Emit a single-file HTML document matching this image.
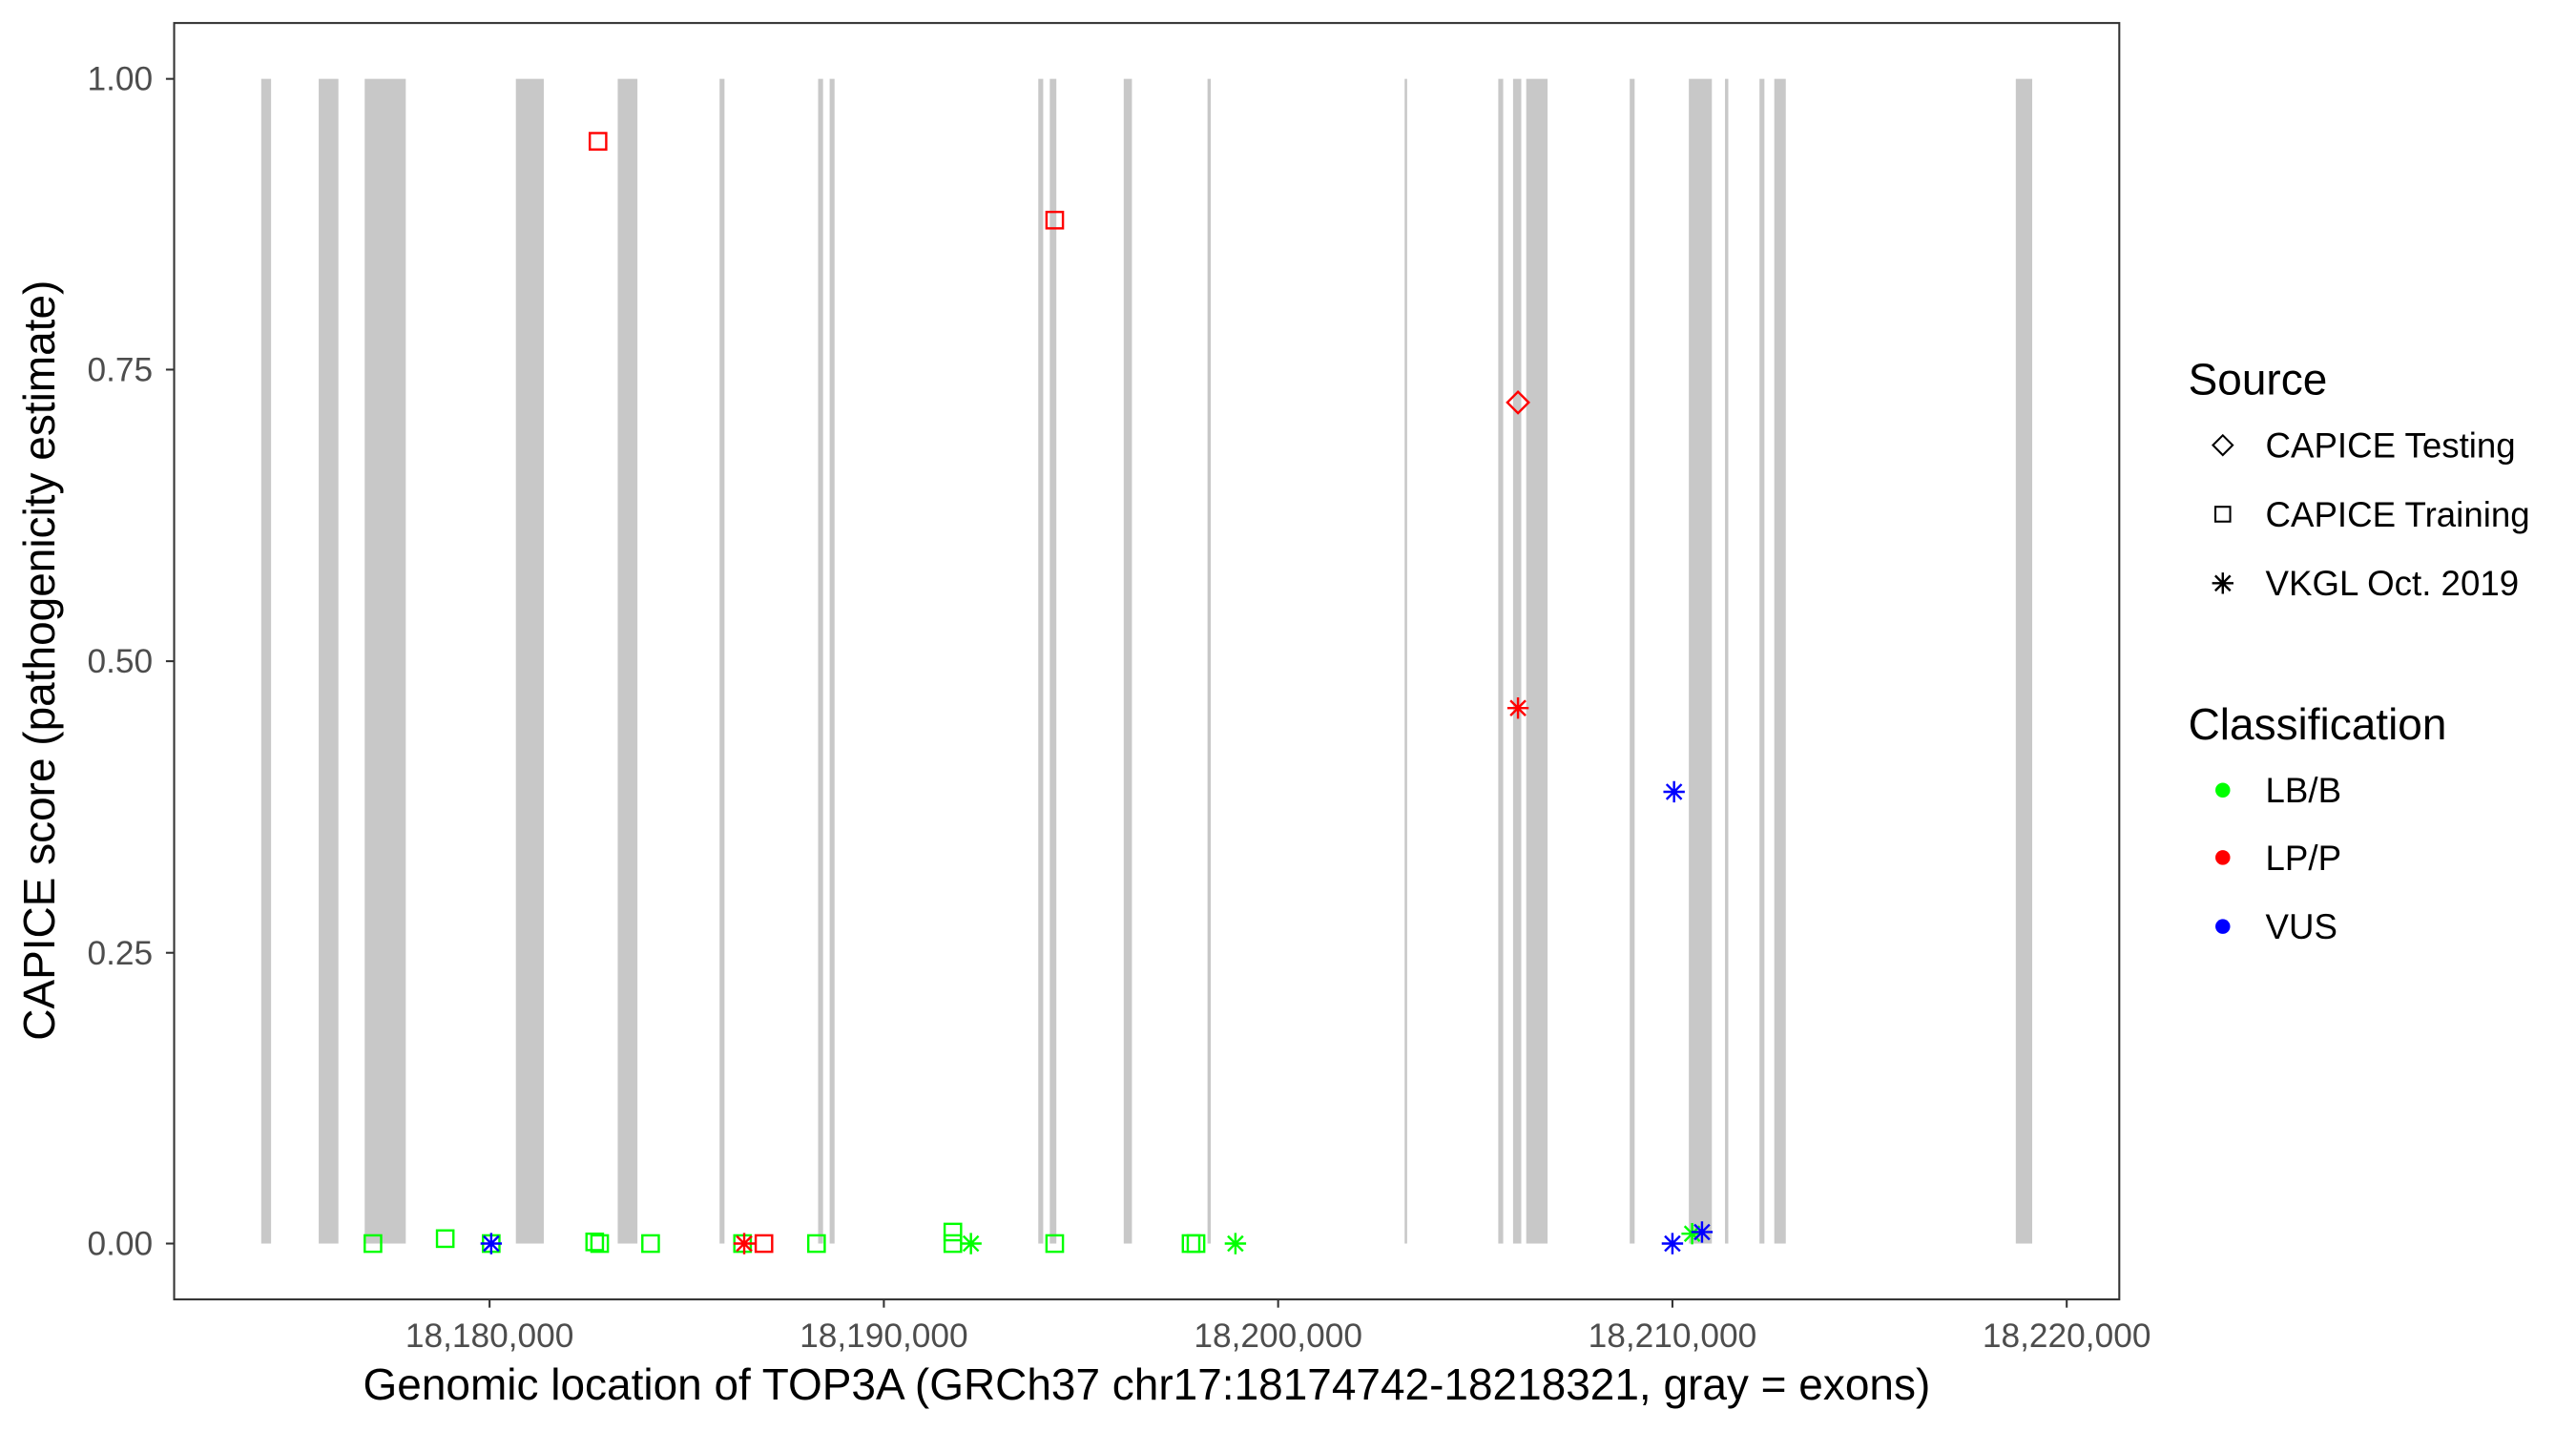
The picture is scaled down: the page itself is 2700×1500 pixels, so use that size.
<!DOCTYPE html>
<html><head><meta charset="utf-8"><style>html,body{margin:0;padding:0;background:#fff}svg{display:block}</style></head>
<body>
<svg width="2700" height="1500" viewBox="0 0 1568 871.1" xmlns="http://www.w3.org/2000/svg" font-family="Liberation Sans, Arial, sans-serif">
<defs>
<g id="st"><path d="M-6.5,0H6.5M0,-6.5V6.5M-4.6,-4.6L4.6,4.6M-4.6,4.6L4.6,-4.6" stroke-width="1.4" fill="none"/></g>
</defs>
<rect width="1568" height="871.1" fill="#fff"/>
<g fill="#c8c8c8">
<rect x="159" y="48" width="6" height="709"/>
<rect x="194" y="48" width="12" height="709"/>
<rect x="222" y="48" width="25" height="709"/>
<rect x="314" y="48" width="17" height="709"/>
<rect x="376" y="48" width="12" height="709"/>
<rect x="438" y="48" width="3" height="709"/>
<rect x="498" y="48" width="3" height="709"/>
<rect x="505" y="48" width="3" height="709"/>
<rect x="632" y="48" width="3" height="709"/>
<rect x="639" y="48" width="4" height="709"/>
<rect x="684" y="48" width="5" height="709"/>
<rect x="735" y="48" width="2" height="709"/>
<rect x="855" y="48" width="1.5" height="709"/>
<rect x="912" y="48" width="3" height="709"/>
<rect x="921" y="48" width="5" height="709"/>
<rect x="929" y="48" width="13" height="709"/>
<rect x="992" y="48" width="3" height="709"/>
<rect x="1028" y="48" width="14" height="709"/>
<rect x="1050" y="48" width="2" height="709"/>
<rect x="1071" y="48" width="3" height="709"/>
<rect x="1080" y="48" width="7" height="709"/>
<rect x="1227" y="48" width="10" height="709"/>
</g>
<rect x="106" y="14" width="1184" height="777" fill="none" stroke="#333" stroke-width="1.2"/>
<g stroke="#333" stroke-width="1.2">
<line x1="101" y1="48" x2="106" y2="48"/><line x1="101" y1="225" x2="106" y2="225"/><line x1="101" y1="402.5" x2="106" y2="402.5"/><line x1="101" y1="580" x2="106" y2="580"/><line x1="101" y1="757" x2="106" y2="757"/>
<line x1="298" y1="791" x2="298" y2="796"/><line x1="538" y1="791" x2="538" y2="796"/><line x1="778" y1="791" x2="778" y2="796"/><line x1="1018" y1="791" x2="1018" y2="796"/><line x1="1258" y1="791" x2="1258" y2="796"/>
</g>
<g fill="#4d4d4d" font-size="20.5" text-anchor="end">
<text x="93" y="55">1.00</text><text x="93" y="232">0.75</text><text x="93" y="409.5">0.50</text><text x="93" y="587">0.25</text><text x="93" y="764">0.00</text>
</g>
<g fill="#4d4d4d" font-size="20.5" text-anchor="middle">
<text x="298" y="820">18,180,000</text><text x="538" y="820">18,190,000</text><text x="778" y="820">18,200,000</text><text x="1018" y="820">18,210,000</text><text x="1258" y="820">18,220,000</text>
</g>
<text x="698" y="852" font-size="26.7" text-anchor="middle" fill="#000">Genomic location of TOP3A (GRCh37 chr17:18174742-18218321, gray = exons)</text>
<text transform="translate(33,402) rotate(-90)" font-size="26.7" text-anchor="middle" fill="#000">CAPICE score (pathogenicity estimate)</text>
<g fill="none" stroke="#00ff00" stroke-width="1.4">
<rect x="222" y="752" width="10" height="10"/><rect x="266" y="749" width="10" height="10"/><rect x="294" y="752" width="10" height="10"/>
<rect x="357" y="751" width="10" height="10"/><rect x="360" y="752" width="10" height="10"/><rect x="391" y="752" width="10" height="10"/>
<rect x="447" y="752" width="10" height="10"/><rect x="492" y="752" width="10" height="10"/><rect x="575" y="745" width="10" height="10"/>
<rect x="575" y="752" width="10" height="10"/><rect x="637" y="752" width="10" height="10"/><rect x="720" y="752" width="10" height="10"/><rect x="723" y="752" width="10" height="10"/>
</g>
<g stroke="#00ff00"><use href="#st" x="591" y="757"/><use href="#st" x="752" y="757"/><use href="#st" x="1030" y="751"/></g>
<g fill="none" stroke="#ff0000" stroke-width="1.4">
<rect x="359" y="81" width="10" height="10"/><rect x="637" y="129" width="10" height="10"/><rect x="460" y="752" width="10" height="10"/>
<path d="M924,238.5L930.5,245L924,251.5L917.5,245Z"/>
</g>
<g stroke="#ff0000"><use href="#st" x="924" y="431"/><use href="#st" x="453" y="757"/></g>
<g stroke="#0000ff"><use href="#st" x="1019" y="482"/><use href="#st" x="299" y="757"/><use href="#st" x="1018" y="757"/><use href="#st" x="1036" y="750"/></g>
<text x="1332" y="240" font-size="26.7" fill="#000">Source</text>
<path d="M1353,265L1359,271L1353,277L1347,271Z" fill="none" stroke="#000" stroke-width="1.2"/>
<text x="1379" y="278.5" font-size="21.3" fill="#000">CAPICE Testing</text>
<rect x="1348.5" y="308.5" width="9" height="9" fill="none" stroke="#000" stroke-width="1.2"/>
<text x="1379" y="320.5" font-size="21.3" fill="#000">CAPICE Training</text>
<use href="#st" x="1353" y="355" stroke="#000"/>
<text x="1379" y="362.5" font-size="21.3" fill="#000">VKGL Oct. 2019</text>
<text x="1332" y="450" font-size="26.7" fill="#000">Classification</text>
<circle cx="1353" cy="481" r="4.5" fill="#00ff00"/><text x="1379" y="488.5" font-size="21.3" fill="#000">LB/B</text>
<circle cx="1353" cy="522" r="4.5" fill="#ff0000"/><text x="1379" y="529.5" font-size="21.3" fill="#000">LP/P</text>
<circle cx="1353" cy="564" r="4.5" fill="#0000ff"/><text x="1379" y="571.5" font-size="21.3" fill="#000">VUS</text>
</svg>
</body></html>
